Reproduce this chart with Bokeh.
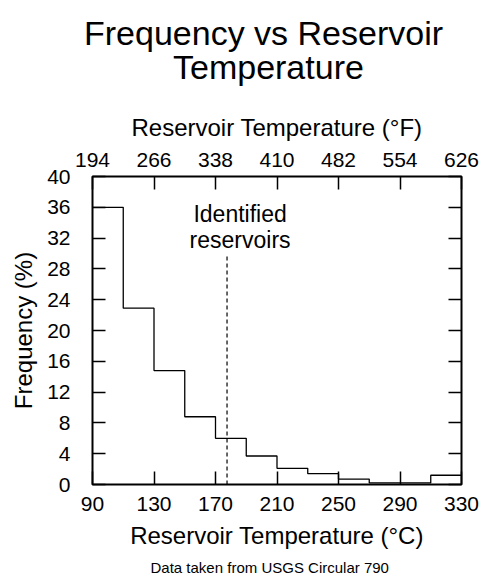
from bokeh.plotting import figure
from bokeh.models import LinearAxis, Range1d, FixedTicker, Title
from bokeh.core.properties import value
from bokeh.embed import file_html
from bokeh.resources import INLINE

# ---- data ----
bin_edges_c = [90, 110, 130, 150, 170, 190, 210, 230, 250, 270, 290, 310, 330]
frequency_pct = [36.0, 22.9, 14.8, 8.8, 6.0, 3.7, 2.1, 1.4, 0.7, 0.2, 0.2, 1.2]
c_ticks = [90, 130, 170, 210, 250, 290, 330]
f_ticks = [194, 266, 338, 410, 482, 554, 626]
y_ticks = [0, 4, 8, 12, 16, 20, 24, 28, 32, 36, 40]
identified_temp_c = 177.5
identified_line_top = 29.7
annotation_lines = ["Identified", "reservoirs"]
title_lines = ["Frequency vs Reservoir", "Temperature"]

FONT = "Liberation Sans"

p = figure(width=481, height=581,
           x_range=Range1d(90, 330), y_range=Range1d(0, 40),
           output_backend="svg", toolbar_location=None,
           min_border_left=92, min_border_right=20,
           min_border_top=176, min_border_bottom=97,
           x_axis_type=None, y_axis_type=None)
p.background_fill_color = "white"
p.border_fill_color = "white"
p.outline_line_color = "black"
p.outline_line_width = 2
p.grid.visible = False
p.title.text = ""
p.title.visible = False

def style_axis(ax, label_size="21px"):
    ax.axis_line_color = None
    ax.major_tick_in = 13
    ax.major_tick_out = 0
    ax.minor_tick_line_color = None
    ax.major_tick_line_color = "black"
    ax.major_tick_line_width = 1.5
    ax.major_label_text_font = FONT
    ax.major_label_text_font_size = label_size
    ax.major_label_text_color = "black"
    ax.axis_label_text_font = FONT
    ax.axis_label_text_font_size = "24px"
    ax.axis_label_text_font_style = "normal"
    ax.axis_label_text_color = "black"

bottom = LinearAxis(ticker=FixedTicker(ticks=c_ticks),
                    axis_label="Reservoir Temperature (°C)")
style_axis(bottom)
bottom.major_label_standoff = 12
bottom.axis_label_standoff = 8
p.add_layout(bottom, "below")

left = LinearAxis(ticker=FixedTicker(ticks=y_ticks), axis_label="Frequency (%)")
style_axis(left)
left.major_label_standoff = 22
left.axis_label_standoff = 7
p.add_layout(left, "left")

right = LinearAxis(ticker=FixedTicker(ticks=y_ticks),
                   major_label_overrides={t: "" for t in y_ticks})
style_axis(right)
right.major_label_standoff = 0
p.add_layout(right, "right")

p.extra_x_ranges = {"F": Range1d(194, 626)}
top = LinearAxis(x_range_name="F", ticker=FixedTicker(ticks=f_ticks),
                 axis_label="Reservoir Temperature (°F)")
style_axis(top)
top.major_label_standoff = 10
top.axis_label_standoff = 9
p.add_layout(top, "above")

# two-line chart title: inner line ("Temperature") first, outer line second
for txt, off, so in zip(reversed(title_lines), [80.5, -8.5], [49.6, -63.6]):
    p.add_layout(Title(text=txt, align="left", offset=off, standoff=so,
                       text_font=FONT, text_font_size="34px",
                       text_font_style="normal", text_color="black"), "above")

foot = Title(text="Data taken from USGS Circular 790", align="left",
             text_font=FONT, text_font_size="15px", text_font_style="normal",
             text_color="black", offset=58, standoff=10)
p.add_layout(foot, "below")

# histogram outline
p.step(x=bin_edges_c, y=frequency_pct + [frequency_pct[-1]], mode="after",
       line_color="black", line_width=1.3)

# identified reservoirs marker
p.line(x=[identified_temp_c, identified_temp_c], y=[0, identified_line_top],
       line_color="black", line_width=1.2, line_dash="4 3")
p.text(x=[186, 186], y=[35.1, 31.8], text=annotation_lines,
       text_font=value(FONT), text_font_size="23px", text_align="center",
       text_baseline="alphabetic", text_color="black")

open("out.html", "w").write(file_html(p, INLINE))
